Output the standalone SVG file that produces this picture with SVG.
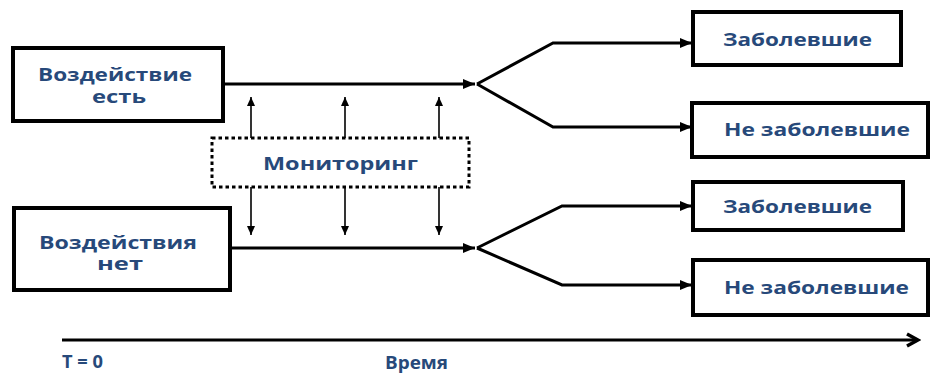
<svg xmlns="http://www.w3.org/2000/svg" width="931" height="374" viewBox="0 0 931 374">
<defs>
<style>
.box{fill:#fff;stroke:#000;stroke-width:4}
.dot{fill:#fff;stroke:#000;stroke-width:3;stroke-dasharray:3.5,3}
.t{font-family:"Open Sans","DejaVu Sans",sans-serif;font-weight:700;fill:#27497a;font-size:17px}
.ln{fill:none;stroke:#000;stroke-width:3;stroke-linejoin:miter}
.thin{fill:none;stroke:#000;stroke-width:1.6}
</style>
<marker id="ah" markerWidth="12" markerHeight="10" refX="12" refY="5" orient="auto" markerUnits="userSpaceOnUse">
<path d="M0,0 L12,5 L0,10 Z" fill="#000"/>
</marker>
<marker id="as" markerWidth="9" markerHeight="8" refX="9" refY="4" orient="auto" markerUnits="userSpaceOnUse">
<path d="M0,0 L9,4 L0,8 Z" fill="#000"/>
</marker>
<marker id="ax" markerWidth="16" markerHeight="16" refX="13" refY="8" orient="auto" markerUnits="userSpaceOnUse">
<path d="M2,2 L13,8 L2,14" fill="none" stroke="#000" stroke-width="3.5"/>
</marker>
</defs>
<rect width="931" height="374" fill="#fff"/>

<g id="connectors">
<line class="ln" x1="223" y1="84" x2="475" y2="84" marker-end="url(#ah)"/>
<polyline class="ln" points="477,84 553,43 692,43" marker-end="url(#ah)"/>
<polyline class="ln" points="477,84 553,127 692,127" marker-end="url(#ah)"/>
<line class="ln" x1="230" y1="248" x2="475" y2="248" marker-end="url(#ah)"/>
<polyline class="ln" points="477,248 562,206 692,206" marker-end="url(#ah)"/>
<polyline class="ln" points="477,248 562,285 692,285" marker-end="url(#ah)"/>
<line class="thin" x1="251" y1="139" x2="251" y2="97" marker-end="url(#as)"/>
<line class="thin" x1="345" y1="139" x2="345" y2="97" marker-end="url(#as)"/>
<line class="thin" x1="439" y1="139" x2="439" y2="97" marker-end="url(#as)"/>
<line class="thin" x1="251" y1="187" x2="251" y2="235" marker-end="url(#as)"/>
<line class="thin" x1="345" y1="187" x2="345" y2="235" marker-end="url(#as)"/>
<line class="thin" x1="439" y1="187" x2="439" y2="235" marker-end="url(#as)"/>
<line class="ln" x1="62" y1="340" x2="918" y2="340" marker-end="url(#ax)"/>
</g>

<g id="exposed">
<rect class="box" x="13" y="48" width="210" height="73"/>
<text class="t" x="38" y="81" textLength="154" lengthAdjust="spacingAndGlyphs">Воздействие</text>
<text class="t" x="92" y="103" textLength="54" lengthAdjust="spacingAndGlyphs">есть</text>
</g>

<g id="unexposed">
<rect class="box" x="14" y="208" width="216" height="82"/>
<text class="t" x="39" y="249" textLength="158" lengthAdjust="spacingAndGlyphs">Воздействия</text>
<text class="t" x="97" y="270" textLength="46" lengthAdjust="spacingAndGlyphs">нет</text>
</g>

<g id="monitoring">
<rect class="dot" x="212" y="138" width="257" height="49"/>
<text class="t" x="263" y="170" textLength="155" lengthAdjust="spacingAndGlyphs">Мониторинг</text>
</g>

<g id="sick1">
<rect class="box" x="693" y="12" width="208" height="53"/>
<text class="t" x="723" y="46" textLength="149" lengthAdjust="spacingAndGlyphs">Заболевшие</text>
</g>

<g id="healthy1">
<rect class="box" x="692" y="103" width="236" height="54"/>
<text class="t" x="724" y="136" textLength="186" lengthAdjust="spacingAndGlyphs">Не заболевшие</text>
</g>

<g id="sick2">
<rect class="box" x="693" y="182" width="210" height="48"/>
<text class="t" x="723" y="213" textLength="149" lengthAdjust="spacingAndGlyphs">Заболевшие</text>
</g>

<g id="healthy2">
<rect class="box" x="693" y="260" width="235" height="55"/>
<text class="t" x="724" y="294" textLength="185" lengthAdjust="spacingAndGlyphs">Не заболевшие</text>
</g>

<g id="axis-labels">
<text class="t" x="62" y="368" textLength="41" lengthAdjust="spacingAndGlyphs">T = 0</text>
<text class="t" x="385" y="369" textLength="63" lengthAdjust="spacingAndGlyphs">Время</text>
</g>
</svg>
